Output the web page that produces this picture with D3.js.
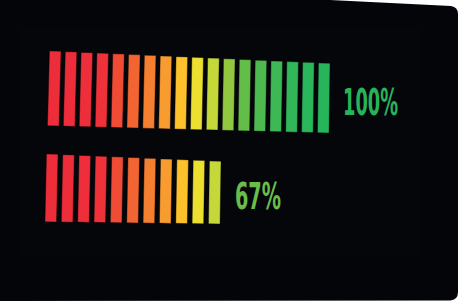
<!DOCTYPE html>
<html><head><meta charset="utf-8">
<script src="https://cdn.jsdelivr.net/npm/d3@7"></script>
<style>html,body{margin:0;padding:0;background:#fff;}svg{display:block;}</style>
</head><body>
<script>
// ---- data ----
const rowLabels = ["100%", "67%"];
const rowValues = [100, 67];
const litSegments = [18, 11];
const totalSegments = 18;
const segmentColors = ["#ee2d3b","#ee2d3b","#ee2e3a","#ef3139","#ef4b35","#f26532","#f47f31","#f89c30","#fcc12b","#ecdf2f","#c5d83a","#92c840","#62be49","#4dba4f","#3db855","#31b759","#2ab65b","#27b55c"];
const labelColors = ["#27b35a", "#6bbd4b"];

const W = 459, H = 301;
const svg = d3.select("body").append("svg").attr("width", W).attr("height", H);

// background screen shape
svg.append("path")
  .attr("d", "M0,0 L330,0 L451,6 Q458,7 458,14 L458,292 Q458,300 450,300.5 L0,301 Z")
  .attr("fill", "#040509");
svg.append("rect").attr("x", 20).attr("y", 28).attr("width", 400).attr("height", 228)
  .attr("fill", "#05060a");

// layout per row (perspective handled by linear scales over segment index)
const rowGeom = [
  {x: [47.5, 317.5], top: [51, 63], bottom: [126, 133], slant: [2, 1], w: 11.5},
  {x: [45, 208.5],   top: [154, 161], bottom: [222, 224], slant: [1.5, 1], w: 11.5}
];

rowValues.forEach((v, r) => {
  const g = rowGeom[r];
  const n = litSegments[r];
  const idx = d3.range(n);
  const xs = d3.scaleLinear().domain([0, n - 1]).range(g.x);
  const ts = d3.scaleLinear().domain([0, n - 1]).range(g.top);
  const bs = d3.scaleLinear().domain([0, n - 1]).range(g.bottom);
  const ss = d3.scaleLinear().domain([0, n - 1]).range(g.slant);
  svg.append("g").selectAll("path").data(idx).join("path")
    .attr("d", i => {
      const x0 = xs(i), t = ts(i), b = bs(i), s = ss(i);
      return `M${x0 + s},${t} L${x0 + s + g.w},${t + 0.3} L${x0 + g.w},${b} L${x0},${b - 0.3} Z`;
    })
    .attr("fill", i => segmentColors[i])
    .attr("stroke", "rgba(0,0,0,0.45)")
    .attr("stroke-width", 0.8);
});

// labels
const labelGeom = [
  {x: 343, y: 115, w: 55, size: 38},
  {x: 235, y: 209, w: 46, size: 38}
];
rowLabels.forEach((t, r) => {
  svg.append("text")
    .attr("x", labelGeom[r].x).attr("y", labelGeom[r].y)
    .attr("font-family", "'Liberation Sans Narrow', 'DejaVu Sans Condensed', 'DejaVu Sans'")
    .attr("font-weight", "bold")
    .attr("font-size", labelGeom[r].size)
    .attr("textLength", labelGeom[r].w)
    .attr("lengthAdjust", "spacingAndGlyphs")
    .attr("fill", labelColors[r])
    .text(t);
});
</script>
</body></html>
